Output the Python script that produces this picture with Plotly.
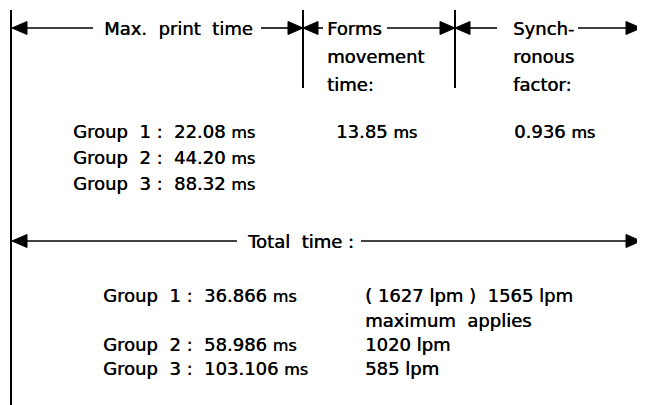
import plotly.graph_objects as go

# ---------------- data ----------------
groups = ["Group  1", "Group  2", "Group  3"]
max_print_ms = [22.08, 44.20, 88.32]
forms_movement_ms = 13.85
synchronous_factor_ms = 0.936
total_ms = [36.866, 58.986, 103.106]
lpm_theoretical = 1627
lpm_values = [1565, 1020, 585]
max_note = "maximum  applies"
header_print = "Max.  print  time"
header_forms = ["Forms", "movement", "time:"]
header_synch = ["Synch-", "ronous", "factor:"]
header_total = "Total  time :"

# ---------------- layout geometry (pixel space) ----------------
W, H = 645, 405
PAD = 8  # page body margin
FONT = "DejaVu Sans"
FS = 18
LW = 1.6
AH_LEN, AH_HALF = 15, 6.5
SHADOW = "0.4px 0 0 black"

y_top = 28
y_hdr = [28, 56, 84]
y_mid = [131, 157, 183]
y_tot = 241
y_bot = [295, 320, 344, 368]

x_left = 11
x_v1, x_v2 = 303, 455
x_right = 641

fig = go.Figure()

def seg(xs, ys, width=LW):
    fig.add_trace(go.Scatter(x=xs, y=ys, mode="lines",
                             line=dict(color="black", width=width),
                             hoverinfo="skip", showlegend=False))

def head(tip_x, y, direction):
    base = tip_x - direction * AH_LEN
    fig.add_trace(go.Scatter(x=[tip_x, base, base, tip_x],
                             y=[y, y - AH_HALF, y + AH_HALF, y],
                             mode="lines", fill="toself", fillcolor="black",
                             line=dict(color="black", width=1),
                             hoverinfo="skip", showlegend=False))

def txt(x, y, s, anchor="left", size=FS):
    fig.add_annotation(x=x, y=y, text=s, showarrow=False, xanchor=anchor,
                       yanchor="middle", xref="x", yref="y",
                       font=dict(family=FONT, size=size, color="black",
                                 shadow=SHADOW))

ms = "<span style='font-size:16px'>ms</span>"

# vertical lines
seg([x_left, x_left], [10, H], width=2)
seg([x_v1, x_v1], [10, 88], width=2)
seg([x_v2, x_v2], [10, 88], width=2)

# top row: Max. print time
head(x_left + 1, y_top, -1)
seg([x_left + 1 + AH_LEN, 93], [y_top, y_top])
txt(178, y_top, header_print, anchor="center")
seg([261, x_v1 - AH_LEN], [y_top, y_top])
head(x_v1, y_top, 1)

# Forms movement time
head(x_v1, y_top, -1)
seg([x_v1 + AH_LEN, 323], [y_top, y_top])
for s, y in zip(header_forms, y_hdr):
    txt(325, y, s)
seg([387, x_v2 - AH_LEN], [y_top, y_top])
head(x_v2, y_top, 1)

# Synchronous factor
head(x_v2, y_top, -1)
seg([x_v2 + AH_LEN, 497], [y_top, y_top])
for s, y in zip(header_synch, y_hdr):
    txt(511, y, s)
seg([578, x_right - AH_LEN], [y_top, y_top])
head(x_right, y_top, 1)

# middle values
for g, v, y in zip(groups, max_print_ms, y_mid):
    txt(71, y, f"{g} :  {v:.2f} {ms}")
txt(334, y_mid[0], f"{forms_movement_ms:.2f} {ms}")
txt(512, y_mid[0], f"{synchronous_factor_ms:.3f} {ms}")

# total time line
head(x_left + 1, y_tot, -1)
seg([x_left + 1 + AH_LEN, 237], [y_tot, y_tot])
txt(245, y_tot, header_total)
seg([361, x_right - AH_LEN], [y_tot, y_tot])
head(x_right, y_tot, 1)

# bottom values
bot_rows = [y_bot[0], y_bot[2], y_bot[3]]
for g, v, y in zip(groups, total_ms, bot_rows):
    txt(101, y, f"{g} :  {v:.3f} {ms}")
txt(363, y_bot[0], f"( {lpm_theoretical} lpm )  {lpm_values[0]} lpm")
txt(363, y_bot[1], max_note)
txt(363, y_bot[2], f"{lpm_values[1]} lpm")
txt(363, y_bot[3], f"{lpm_values[2]} lpm")

fig.update_layout(
    width=W - PAD, height=H - PAD, margin=dict(l=0, r=0, t=0, b=0),
    paper_bgcolor="white", plot_bgcolor="white",
    xaxis=dict(range=[PAD, W], visible=False, fixedrange=True),
    yaxis=dict(range=[H, PAD], visible=False, fixedrange=True),
    showlegend=False,
)

fig.write_html("out.html")
